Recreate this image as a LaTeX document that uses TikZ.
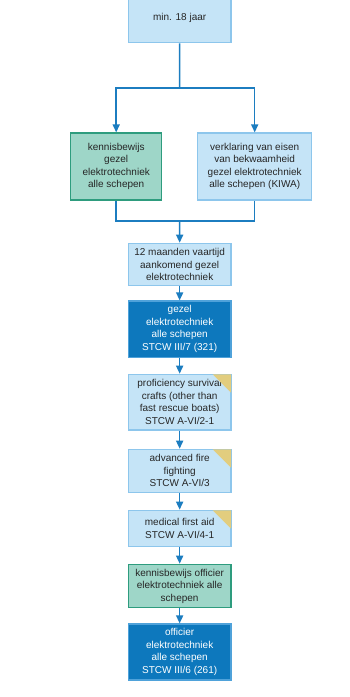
\documentclass[tikz,border=0pt]{standalone}
\usepackage{fontspec}
\setmainfont{Liberation Sans}
\usetikzlibrary{arrows.meta}
\definecolor{lfill}{HTML}{C5E4F7}
\definecolor{ldraw}{HTML}{8DC6EC}
\definecolor{gfill}{HTML}{9ED6C8}
\definecolor{gdraw}{HTML}{2E9C7E}
\definecolor{dfill}{HTML}{0D78BD}
\definecolor{ddraw}{HTML}{4FA2DA}
\definecolor{conn}{HTML}{1C7DC0}
\definecolor{tri}{HTML}{E2CD7E}
\tikzset{
  box/.style={draw, line width=1.2pt, align=center, inner sep=0pt, font=\fontsize{10}{12.5}\selectfont, text=black!85},
  lightbox/.style={box, fill=lfill, draw=ldraw},
  greenbox/.style={box, fill=gfill, draw=gdraw},
  darkbox/.style={box, fill=dfill, draw=ddraw, text=white},
  conline/.style={draw=conn, line width=1.5pt},
  arr/.style={conline, -{Triangle[width=7pt,length=8pt]}},
  corner/.style={fill=tri, draw=none}
}
\newcommand{\mkbox}[7]{% style, name, x1, y1, x2, y2, text
  \node[#1, minimum width={#5pt-#3pt}, minimum height={#6pt-#4pt}] (#2) at ({(#3+#5)/2*1pt}, {-(#4+#6)/2*1pt}) {#7};}
\newcommand{\mkcorner}[1]{%
  \fill[corner] ([xshift=-19pt,yshift=-0.6pt]#1.north east) -- ([xshift=-0.6pt,yshift=-0.6pt]#1.north east) -- ([xshift=-0.6pt,yshift=-19pt]#1.north east) -- cycle;}
\begin{document}
\begin{tikzpicture}
\useasboundingbox (0,0) rectangle (350pt,-697pt);
\clip (0,0) rectangle (350pt,-697pt);
\fill[white] (0,0) rectangle (350pt,-697pt);
\mkbox{lightbox}{top}{128.3}{-6}{231}{42.7}{min. 18 jaar}
\mkbox{greenbox}{kg}{70.7}{133}{161.7}{200}{kennisbewijs\\gezel\\elektrotechniek\\alle schepen}
\mkbox{lightbox}{ver}{197.7}{133}{311.7}{200}{verklaring van eisen\\van bekwaamheid\\gezel elektrotechniek\\alle schepen (KIWA)}
\mkbox{lightbox}{maand}{128.3}{243.3}{231}{285.7}{12 maanden vaartijd\\aankomend gezel\\elektrotechniek}
\mkbox{darkbox}{gezel}{128.3}{301}{231}{357.3}{gezel\\elektrotechniek\\alle schepen\\STCW III/7 (321)}
\mkbox{lightbox}{prof}{128.3}{374.3}{231}{430}{proficiency survival\\crafts (other than\\fast rescue boats)\\STCW A-VI/2-1}
\mkbox{lightbox}{fire}{128.3}{449.3}{231}{492.3}{advanced fire\\fighting\\STCW A-VI/3}
\mkbox{lightbox}{aid}{128.3}{510.3}{231}{546.7}{medical first aid\\STCW A-VI/4-1}
\mkbox{greenbox}{kof}{128.3}{564.3}{231}{607.7}{kennisbewijs officier\\elektrotechniek alle\\schepen}
\mkbox{darkbox}{off}{128.3}{624}{231}{680}{officier\\elektrotechniek\\alle schepen\\STCW III/6 (261)}
\mkcorner{prof}
\mkcorner{fire}
\mkcorner{aid}
\coordinate (split) at (179.7pt,-88pt);
\coordinate (merge) at (179.7pt,-221pt);
\draw[conline] (top.south) -- (split);
\draw[arr] (split) -| (kg.north);
\draw[arr] (split) -| (ver.north);
\draw[conline] (kg.south) |- (merge);
\draw[conline] (ver.south) |- (merge);
\draw[arr] (merge) -- (maand.north);
\draw[arr] (maand) -- (gezel);
\draw[arr] (gezel) -- (prof);
\draw[arr] (prof) -- (fire);
\draw[arr] (fire) -- (aid);
\draw[arr] (aid) -- (kof);
\draw[arr] (kof) -- (off);
\end{tikzpicture}
\end{document}
